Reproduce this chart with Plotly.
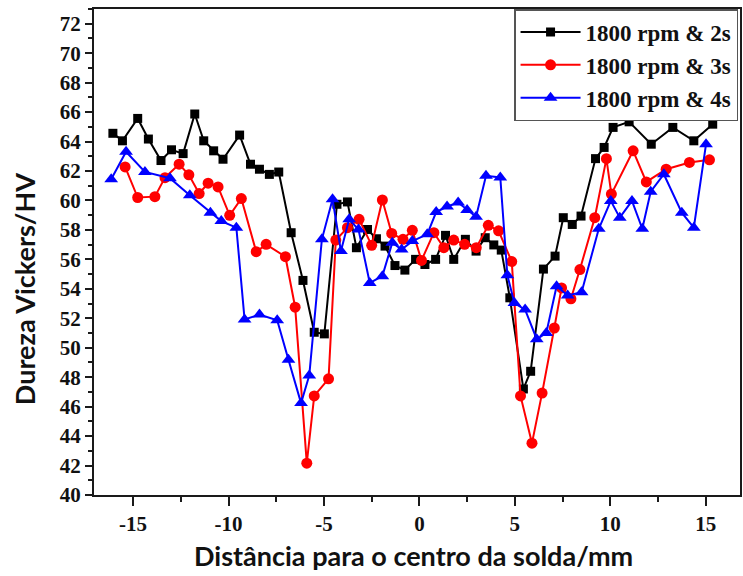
import plotly.graph_objects as go

# ---- data ----
x_2s = [-16.06, -15.56, -14.76, -14.2, -13.54, -12.99, -12.38, -11.77, -11.3, -10.78,
        -10.29, -9.42, -8.85, -8.38, -7.86, -7.37, -6.72, -6.1, -5.51, -4.98,
        -4.32, -3.77, -3.3, -2.72, -2.25, -1.8, -1.28, -0.76, -0.2, 0.29,
        0.85, 1.37, 1.8, 2.41, 2.97, 3.45, 3.9, 4.29, 4.74, 5.45,
        5.83, 6.5, 7.11, 7.54, 8.01, 8.47, 9.23, 9.68, 10.15, 10.99,
        12.15, 13.28, 14.38, 15.37]
y_2s = [64.56, 64.05, 65.57, 64.17, 62.71, 63.44, 63.18, 65.87, 64.05, 63.37,
        62.80, 64.44, 62.46, 62.12, 61.77, 61.93, 57.81, 54.57, 51.05, 50.94,
        59.74, 59.90, 56.79, 58.03, 57.40, 56.9, 55.58, 55.27, 56.0, 55.65,
        56.0, 57.63, 56.0, 57.36, 56.56, 57.47, 56.98, 56.63, 53.39, 47.2,
        48.4, 55.34, 56.22, 58.83, 58.37, 58.94, 62.84, 63.6, 64.96, 65.34,
        63.82, 64.96, 64.05, 65.18]

x_3s = [-15.42, -14.76, -13.86, -13.33, -12.59, -12.08, -11.54, -11.07, -10.55, -9.94,
        -9.33, -8.55, -8.03, -7.02, -6.51, -5.9, -5.51, -4.76, -4.38, -3.77,
        -3.16, -2.5, -1.94, -1.45, -0.86, -0.37, 0.11, 0.76, 1.28, 1.8,
        2.37, 2.98, 3.61, 4.15, 4.84, 5.3, 5.9, 6.43, 7.07, 7.45,
        7.94, 8.41, 9.19, 9.8, 10.06, 11.2, 11.89, 12.93, 14.15, 15.2]
y_3s = [62.28, 60.2, 60.26, 61.55, 62.46, 61.74, 60.47, 61.17, 60.92, 58.99,
        60.13, 56.52, 57.02, 56.18, 52.75, 42.16, 46.73, 47.89, 57.31, 58.15,
        58.72, 56.95, 60.03, 57.76, 57.36, 57.97, 55.93, 57.81, 56.79, 57.31,
        57.02, 56.79, 58.31, 57.94, 55.85, 46.73, 43.52, 46.92, 51.34, 54.06,
        53.32, 55.31, 58.83, 62.84, 60.43, 63.37, 61.26, 62.12, 62.58, 62.76]

x_4s = [-16.15, -15.37, -14.38, -13.07, -12.03, -10.95, -10.38, -9.59, -9.16, -8.38,
        -7.45, -6.86, -6.2, -5.77, -5.11, -4.55, -4.11, -3.68, -3.19, -2.6,
        -1.94, -1.42, -0.93, -0.37, 0.41, 0.88, 1.45, 2.03, 2.5, 2.97,
        3.49, 4.24, 4.61, 4.98, 5.54, 6.15, 6.65, 7.19, 7.77, 8.5,
        9.4, 10.03, 10.5, 11.14, 11.68, 12.12, 12.81, 13.75, 14.38, 15.02]
y_4s = [61.44, 63.31, 61.94, 61.51, 60.36, 59.17, 58.6, 58.15, 51.92, 52.25,
        51.87, 49.19, 46.24, 48.12, 57.36, 60.08, 56.56, 58.72, 58.03, 54.40,
        54.86, 57.13, 56.67, 57.24, 57.7, 59.21, 59.59, 59.86, 59.35, 58.9,
        61.67, 61.56, 54.92, 53.03, 52.59, 50.58, 51.0, 54.18, 53.55, 53.77,
        58.08, 59.97, 58.83, 59.97, 58.08, 60.59, 61.78, 59.17, 58.15, 63.82]

x_tick_values = [-15, -10, -5, 0, 5, 10, 15]
y_tick_values = [40, 42, 44, 46, 48, 50, 52, 54, 56, 58, 60, 62, 64, 66, 68, 70, 72]

series_names = ["1800 rpm & 2s", "1800 rpm & 3s", "1800 rpm & 4s"]
x_title = "Distância para o centro da solda/mm"
y_title = "Dureza Vickers/HV"

# ---- figure ----
fig = go.Figure()
fig.add_trace(go.Scatter(x=x_2s, y=y_2s, name=series_names[0], mode="lines+markers",
                         line=dict(color="#000000", width=2),
                         marker=dict(symbol="square", size=9, color="#000000")))
fig.add_trace(go.Scatter(x=x_3s, y=y_3s, name=series_names[1], mode="lines+markers",
                         line=dict(color="#ff0000", width=2),
                         marker=dict(symbol="circle", size=11, color="#ff0000")))
fig.add_trace(go.Scatter(x=x_4s, y=y_4s, name=series_names[2], mode="lines+markers",
                         line=dict(color="#0000ff", width=2),
                         marker=dict(symbol="triangle-up", size=12, color="#0000ff")))

title_font = dict(family="Lato", size=27, color="#111111", weight="bold")
tick_font = dict(family="Liberation Serif", size=21, color="#111111", weight="bold")

fig.update_layout(
    width=743, height=576,
    margin=dict(l=94, r=1, t=9, b=81),
    paper_bgcolor="white", plot_bgcolor="white",
    showlegend=True,
    legend=dict(x=0.997, xanchor="right", y=1, yanchor="top",
                bgcolor="white", bordercolor="#555555", borderwidth=1.5,
                font=dict(family="Liberation Serif", size=23, color="#111111",
                          weight="bold"),
                itemwidth=60, tracegroupgap=0),
    annotations=[
        dict(text=x_title, xref="paper", yref="paper", x=0.495, y=-0.125,
             xanchor="center", yanchor="middle", showarrow=False, font=title_font),
        dict(text=y_title, xref="paper", yref="paper", x=-0.1065, y=0.424,
             xanchor="center", yanchor="middle", showarrow=False, textangle=-90,
             font=title_font),
    ],
)
fig.update_xaxes(range=[-17.05, 16.8], tickmode="array", tickvals=x_tick_values,
                 ticktext=["<b>%d</b>" % v for v in x_tick_values],
                 ticklen=9, ticks="outside", tickwidth=1.5, tickcolor="#1a1a1a",
                 showline=True, linecolor="#1a1a1a", linewidth=2, mirror=True,
                 showgrid=False, zeroline=False, tickfont=tick_font,
                 minor=dict(dtick=2.5, tick0=0, ticks="outside", ticklen=5,
                            tickwidth=1.5, tickcolor="#1a1a1a", showgrid=False))
fig.update_yaxes(range=[40, 73], tickmode="array", tickvals=y_tick_values,
                 ticktext=["<b>%d</b>" % v for v in y_tick_values],
                 ticklen=7, ticks="outside", tickwidth=1.5, tickcolor="#1a1a1a",
                 showline=True, linecolor="#1a1a1a", linewidth=2, mirror=True,
                 showgrid=False, zeroline=False, tickfont=tick_font,
                 minor=dict(dtick=1, tick0=40, ticks="outside", ticklen=4,
                            tickwidth=1.5, tickcolor="#1a1a1a", showgrid=False))

fig.write_html("out.html")
